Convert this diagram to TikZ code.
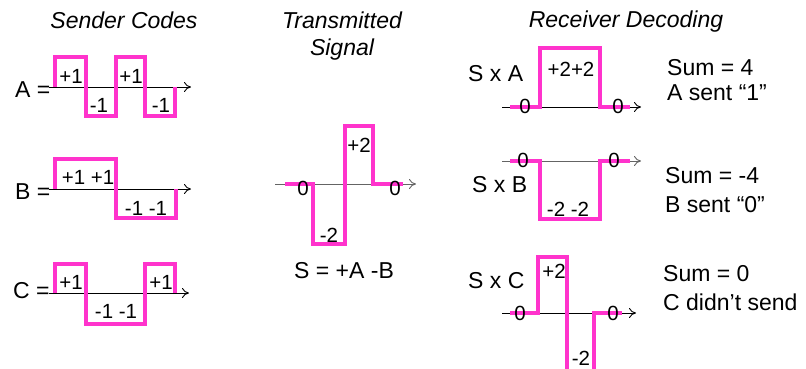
\documentclass[tikz,border=0pt]{standalone}
\usepackage{fontspec}
\setmainfont{Liberation Sans}
\usetikzlibrary{arrows.meta}
\definecolor{pk}{RGB}{255,51,204}
\definecolor{axgray}{RGB}{100,100,100}
\tikzset{
  wave/.style={pk, line width=3.3pt, line join=miter},
  axisline/.style={-{To[length=7pt,width=10pt]}, line width=0.9pt},
  lbl/.style={font=\fontsize{20.5}{24}\selectfont, inner sep=0pt, anchor=base},
  big/.style={font=\fontsize{23}{28}\selectfont, inner sep=0pt, anchor=base west},
  bigc/.style={font=\fontsize{23}{28}\selectfont, inner sep=0pt, anchor=base},
  ttl/.style={font=\fontsize{23}{28}\selectfont\itshape, inner sep=0pt, anchor=base}
}
\begin{document}
\begin{tikzpicture}[x=1pt,y=-1pt]
\useasboundingbox (0,0) rectangle (806,368);
\clip (0,0) rectangle (806,368);

% titles
\node[ttl] (t1) at (124,28) {Sender Codes};
\node[ttl] (t2a) at (342,28) {Transmitted};
\node[ttl] (t2b) at (342,55) {Signal};
\node[ttl] (t3) at (626,27) {Receiver Decoding};

% ---------- A ----------
\coordinate (a0) at (49,87); \coordinate (a1) at (191,87);
\draw[axisline] (a0) -- (a1);
\draw[wave] (55,87) -- (55,57) -- (86,57) -- (86,116) -- (116,116) -- (116,57) -- (145,57) -- (145,116) -- (175,116) -- (175,87);
\node[big] (la) at (15,97) {A =};
\node[lbl] (la1) at (71,83) {+1};
\node[lbl] (la2) at (99,112) {-1};
\node[lbl] (la3) at (131,83) {+1};
\node[lbl] (la4) at (161,112) {-1};

% ---------- B ----------
\coordinate (b0) at (49,189); \coordinate (b1) at (191,189);
\draw[axisline] (b0) -- (b1);
\draw[wave] (55,189) -- (55,159) -- (116,159) -- (116,218) -- (176,218) -- (176,189);
\node[big] (lb) at (15,199) {B =};
\node[lbl] (lb1) at (88,184) {+1 +1};
\node[lbl] (lb2) at (146,215) {-1 -1};

% ---------- C ----------
\coordinate (c0) at (49,293); \coordinate (c1) at (189,293);
\draw[axisline] (c0) -- (c1);
\draw[wave] (55,293) -- (55,264) -- (86,264) -- (86,324) -- (145,324) -- (145,264) -- (175,264) -- (175,293);
\node[big] (lc) at (13,298) {C =};
\node[lbl] (lc1) at (71,289) {+1};
\node[lbl] (lc2) at (116,318) {-1 -1};
\node[lbl] (lc3) at (161,289) {+1};

% ---------- Transmitted ----------
\coordinate (s0) at (275,184); \coordinate (s1) at (416,184);
\draw[axisline, axgray] (s0) -- (s1);
\draw[wave] (285,184) -- (313,184) -- (313,244) -- (345,244) -- (345,126) -- (373,126) -- (373,184) -- (403,184);
\node[lbl] (ls1) at (303,195) {0};
\node[lbl] (ls2) at (329,242) {-2};
\node[lbl] (ls3) at (359,152) {+2};
\node[lbl] (ls4) at (395,195) {0};
\node[bigc] (ls) at (344,278) {S = +A -B};

% ---------- S x A ----------
\coordinate (ra0) at (502,107); \coordinate (ra1) at (641,107);
\draw[axisline] (ra0) -- (ra1);
\draw[wave] (510,107) -- (540,107) -- (540,48) -- (600,48) -- (600,107) -- (630,107);
\node[big] (lra) at (468,81) {S x A};
\node[lbl] (lra1) at (571,76) {+2+2};
\node[lbl] (lra2) at (525,113) {0};
\node[lbl] (lra3) at (618,113) {0};
\node[big] (sa1) at (667,75) {Sum = 4};
\node[big] (sa2) at (667,100) {A sent “1”};

% ---------- S x B ----------
\coordinate (rb0) at (502,161); \coordinate (rb1) at (641,161);
\draw[axisline, axgray] (rb0) -- (rb1);
\draw[wave] (510,161) -- (540,161) -- (540,219) -- (600,219) -- (600,161) -- (630,161);
\node[big] (lrb) at (472,192) {S x B};
\node[lbl] (lrb1) at (568,216) {-2 -2};
\node[lbl] (lrb2) at (523,167) {0};
\node[lbl] (lrb3) at (614,167) {0};
\node[big] (sb1) at (665,183) {Sum = -4};
\node[big] (sb2) at (665,212) {B sent “0”};

% ---------- S x C ----------
\coordinate (rc0) at (502,313); \coordinate (rc1) at (636,313);
\draw[axisline] (rc0) -- (rc1);
\draw[wave] (510,313) -- (538,313) -- (538,257) -- (567,257) -- (567,372) -- (594,372) -- (594,313) -- (622,313);
\node[big] (lrc) at (468,288) {S x C};
\node[lbl] (lrc1) at (554,278) {+2};
\node[lbl] (lrc2) at (581,365) {-2};
\node[lbl] (lrc3) at (520,320) {0};
\node[lbl] (lrc4) at (613,320) {0};
\node[big] (sc1) at (663,281) {Sum = 0};
\node[big] (sc2) at (663,310) {C didn’t send};
\end{tikzpicture}
\end{document}
